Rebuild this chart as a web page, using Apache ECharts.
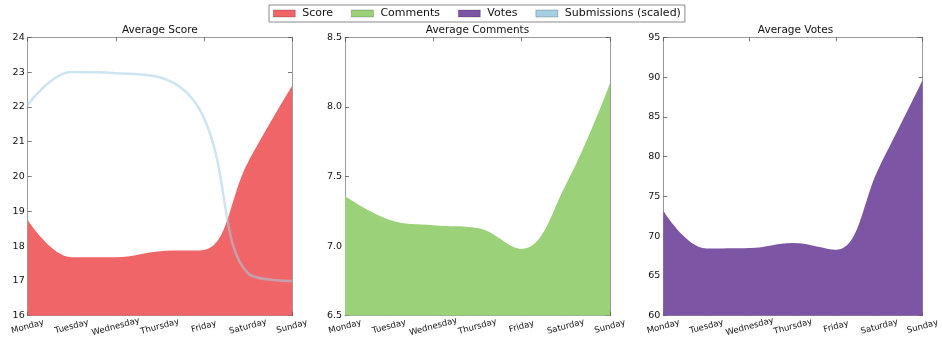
<!DOCTYPE html>
<html>
<head>
<meta charset="utf-8">
<script src="https://cdn.jsdelivr.net/npm/echarts@6/dist/echarts.min.js"></script>
<style>
  html, body { margin: 0; padding: 0; background: #ffffff; }
  #chart { width: 942px; height: 345px; }
</style>
</head>
<body>
<div id="chart"></div>
<script>
// Weekday averages
const days = ['Monday', 'Tuesday', 'Wednesday', 'Thursday', 'Friday', 'Saturday', 'Sunday'];
const avgScore = [18.75, 17.68, 17.68, 17.85, 17.89, 20.4, 22.6];
const submissionsScaled = [22.06, 23.0, 22.97, 22.85, 21.68, 17.22, 17.0];
const avgComments = [7.36, 7.19, 7.15, 7.13, 6.98, 7.44, 8.17];
const avgVotes = [73.2, 68.45, 68.5, 69.15, 68.3, 78.7, 89.6];

// y ranges: [min, max, step]
const scoreRange = [16, 24, 1];
const commentsRange = [6.5, 8.5, 0.5];
const votesRange = [60, 95, 5];

const panelTitles = ['Average Score', 'Average Comments', 'Average Votes'];
const legendNames = ['Score', 'Comments', 'Votes', 'Submissions (scaled)'];

const colors = {
  score: '#f06668',
  comments: '#9bd279',
  votes: '#7d55a5',
  subs: '#a6cee3'
};

const FONT = 'DejaVu Sans';
const panels = [
  { left: 27.7, width: 264.3, range: scoreRange, dec: 0 },
  { left: 345, width: 265, range: commentsRange, dec: 1 },
  { left: 663.3, width: 264.4, range: votesRange, dec: 0 }
];
const TOP = 37.3, HEIGHT = 278.4;

const grids = [], xAxes = [], yAxes = [], titles = [];
panels.forEach((p, i) => {
  grids.push({ left: p.left, top: TOP, width: p.width, height: HEIGHT, containLabel: false });
  titles.push({
    text: panelTitles[i],
    left: p.left + p.width / 2,
    top: 25,
    padding: 0,
    textAlign: 'center',
    textStyle: { fontFamily: FONT, fontSize: 10.5, fontWeight: 'normal', color: '#111' }
  });
  const frame = { show: true, onZero: false, lineStyle: { color: '#9a9a9a', width: 1 } };
  const tick = { show: true, inside: true, length: 4, lineStyle: { color: '#555', width: 0.8 } };
  // bottom axis with weekday labels
  xAxes.push({
    type: 'category', gridIndex: i, data: days, boundaryGap: false, position: 'bottom',
    axisLine: frame, axisTick: Object.assign({ alignWithLabel: true }, tick),
    splitLine: { show: false },
    axisLabel: {
      rotate: 15, align: 'center', verticalAlign: 'middle', margin: 11, interval: 0,
      fontFamily: FONT, fontSize: 8.5, color: '#111'
    }
  });
  // top frame edge
  xAxes.push({
    type: 'category', gridIndex: i, data: days, boundaryGap: false, position: 'top',
    axisLine: frame, axisTick: tick, axisLabel: { show: false }, splitLine: { show: false }
  });
  // left value axis
  yAxes.push({
    type: 'value', gridIndex: i, position: 'left',
    min: p.range[0], max: p.range[1], interval: p.range[2],
    axisLine: frame, axisTick: tick, splitLine: { show: false },
    axisLabel: {
      margin: 3, fontFamily: FONT, fontSize: 9.5, color: '#111',
      formatter: v => v.toFixed(p.dec)
    }
  });
  // right frame edge
  yAxes.push({
    type: 'value', gridIndex: i, position: 'right',
    min: p.range[0], max: p.range[1], interval: p.range[2],
    axisLine: frame, axisTick: tick, splitLine: { show: false }, axisLabel: { show: false }
  });
});

function areaSeries(name, data, color, idx) {
  return {
    name, type: 'line', data, xAxisIndex: idx * 2, yAxisIndex: idx * 2,
    smooth: 0.4, showSymbol: false, symbol: 'none',
    lineStyle: { width: 0, color },
    itemStyle: { color },
    areaStyle: { color, opacity: 1, origin: 'start' },
    z: 2
  };
}

const series = [
  areaSeries('Score', avgScore, colors.score, 0),
  areaSeries('Comments', avgComments, colors.comments, 1),
  areaSeries('Votes', avgVotes, colors.votes, 2),
  {
    name: 'Submissions (scaled)', type: 'line', data: submissionsScaled,
    xAxisIndex: 0, yAxisIndex: 0, smooth: 0.4, showSymbol: false, symbol: 'none',
    lineStyle: { width: 2.5, color: 'rgba(166,206,227,0.55)' },
    itemStyle: { color: colors.subs },
    z: 3
  }
];

const legendColors = [colors.score, colors.comments, colors.votes, colors.subs];

const option = {
  animation: false,
  backgroundColor: '#ffffff',
  title: titles,
  legend: {
    left: 269, top: 5,
    padding: [3, 4, 3, 4],
    borderColor: '#8a8a8a', borderWidth: 1,
    itemWidth: 22, itemHeight: 7, itemGap: 18,
    icon: 'rect',
    textStyle: { fontFamily: FONT, fontSize: 11, color: '#111', padding: [0, 0, 0, 2] },
    data: legendNames.map((n, i) => ({
      name: n,
      itemStyle: { color: legendColors[i], opacity: 1, borderColor: 'rgba(0,0,0,0.35)', borderWidth: 0.6 }
    }))
  },
  grid: grids,
  xAxis: xAxes,
  yAxis: yAxes,
  series
};

const chart = echarts.init(document.getElementById('chart'), null, { renderer: 'canvas' });
chart.setOption(option);
</script>
</body>
</html>
